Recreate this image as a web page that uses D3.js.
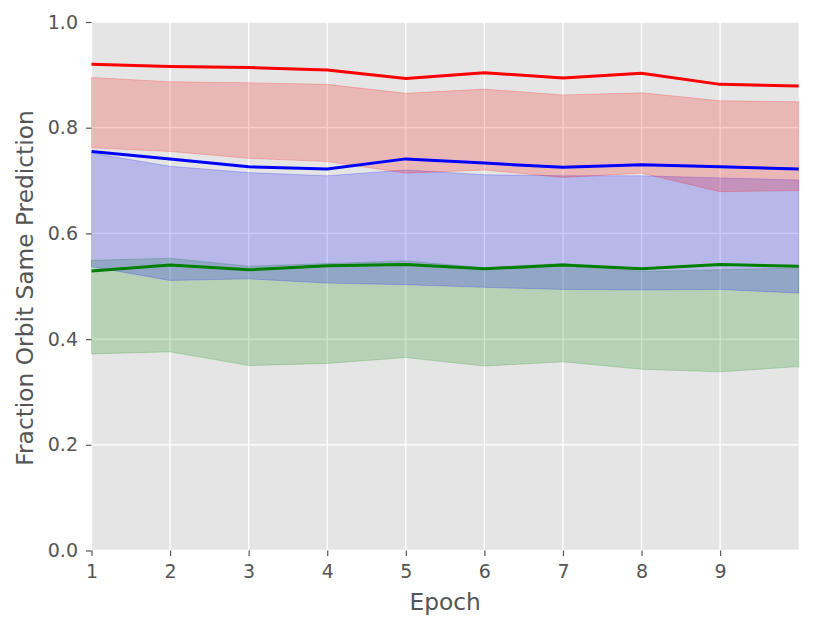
<!DOCTYPE html>
<html>
<head>
<meta charset="utf-8">
<script src="https://cdn.jsdelivr.net/npm/d3@7"></script>
<style>
  body { margin: 0; background: #fff; }
  svg { display: block; font-family: "DejaVu Sans", sans-serif; }
</style>
</head>
<body>
<div class="chart"></div>
<script>
var epochs = [1, 2, 3, 4, 5, 6, 7, 8, 9, 10];
var xTicks = [1, 2, 3, 4, 5, 6, 7, 8, 9];
var yTicks = [0.0, 0.2, 0.4, 0.6, 0.8, 1.0];

var redMean   = [0.920, 0.916, 0.914, 0.909, 0.893, 0.904, 0.894, 0.903, 0.882, 0.879];
var redUpper  = [0.895, 0.887, 0.885, 0.882, 0.865, 0.873, 0.862, 0.866, 0.851, 0.849];
var redLower  = [0.762, 0.755, 0.742, 0.736, 0.714, 0.720, 0.706, 0.714, 0.679, 0.681];

var blueMean  = [0.755, 0.741, 0.726, 0.722, 0.741, 0.733, 0.725, 0.730, 0.726, 0.722];
var blueUpper = [0.752, 0.727, 0.715, 0.709, 0.720, 0.711, 0.709, 0.709, 0.705, 0.701];
var blueLower = [0.537, 0.511, 0.514, 0.506, 0.503, 0.498, 0.494, 0.493, 0.494, 0.487];

var greenMean  = [0.529, 0.540, 0.531, 0.539, 0.541, 0.533, 0.540, 0.533, 0.541, 0.538];
var greenUpper = [0.549, 0.553, 0.538, 0.543, 0.548, 0.535, 0.543, 0.528, 0.531, 0.535];
var greenLower = [0.372, 0.376, 0.350, 0.354, 0.365, 0.349, 0.357, 0.343, 0.338, 0.348];

// fills drawn green, blue, red (matches overlap colours), lines on top
var series = [
    {color: "green", mean: greenMean, upper: greenUpper, lower: greenLower},
    {color: "blue",  mean: blueMean,  upper: blueUpper,  lower: blueLower},
    {color: "red",   mean: redMean,   upper: redUpper,   lower: redLower}
];
var lineOrder = [series[2], series[1], series[0]];

var width = 814, height = 629,
    margin = {left: 91.5, right: 15.3, top: 22, bottom: 78.5};

var x = d3.scaleLinear().domain([1, 10]).range([margin.left, width - margin.right]),
    y = d3.scaleLinear().domain([0, 1]).range([height - margin.bottom, margin.top]);

var svg = d3.select(".chart").append("svg")
    .attr("width", width)
    .attr("height", height);

svg.append("rect")
    .attr("x", x(1)).attr("y", y(1))
    .attr("width", x(10) - x(1)).attr("height", y(0) - y(1))
    .attr("fill", "#e5e5e5");

var grid = svg.append("g").attr("stroke", "#fff").attr("stroke-width", 1.3);
grid.selectAll("line.v").data(xTicks).enter().append("line")
    .attr("x1", function(d) { return x(d); }).attr("x2", function(d) { return x(d); })
    .attr("y1", y(0)).attr("y2", y(1));
grid.selectAll("line.h").data(yTicks).enter().append("line")
    .attr("y1", function(d) { return y(d); }).attr("y2", function(d) { return y(d); })
    .attr("x1", x(1)).attr("x2", x(10));

var area = d3.area()
    .x(function(d) { return x(d.e); })
    .y0(function(d) { return y(d.lo); })
    .y1(function(d) { return y(d.hi); });

var line = d3.line()
    .x(function(d) { return x(d.e); })
    .y(function(d) { return y(d.v); });

series.forEach(function(s) {
    var pts = epochs.map(function(e, i) { return {e: e, lo: s.lower[i], hi: s.upper[i]}; });
    svg.append("path")
        .attr("d", area(pts))
        .attr("fill", s.color).attr("fill-opacity", 0.2)
        .attr("stroke", s.color).attr("stroke-opacity", 0.2).attr("stroke-width", 1);
});

lineOrder.forEach(function(s) {
    var pts = epochs.map(function(e, i) { return {e: e, v: s.mean[i]}; });
    svg.append("path")
        .attr("d", line(pts))
        .attr("fill", "none")
        .attr("stroke", s.color)
        .attr("stroke-width", 3)
        .attr("stroke-linejoin", "round");
});

var xAxis = svg.append("g")
    .attr("transform", "translate(0," + y(0) + ")")
    .call(d3.axisBottom(x).tickValues(xTicks).tickFormat(d3.format("d")).tickSize(5.5).tickPadding(9));
var yAxis = svg.append("g")
    .attr("transform", "translate(" + x(1) + ",0)")
    .call(d3.axisLeft(y).tickValues(yTicks).tickFormat(d3.format(".1f")).tickSize(5.5).tickPadding(8));

[xAxis, yAxis].forEach(function(a) {
    a.select(".domain").remove();
    a.selectAll(".tick line").attr("stroke", "#555").attr("stroke-width", 1.2);
    a.selectAll(".tick text").attr("fill", "#555").style("font-size", "19px")
        .style("font-family", "DejaVu Sans");
});

svg.append("text")
    .attr("x", (x(1) + x(10)) / 2)
    .attr("y", 610)
    .attr("text-anchor", "middle")
    .attr("fill", "#555")
    .style("font-size", "23.3px")
    .text("Epoch");

svg.append("text")
    .attr("transform", "translate(33,288) rotate(-90)")
    .attr("text-anchor", "middle")
    .attr("fill", "#555")
    .style("font-size", "23.3px")
    .text("Fraction Orbit Same Prediction");
</script>
</body>
</html>
